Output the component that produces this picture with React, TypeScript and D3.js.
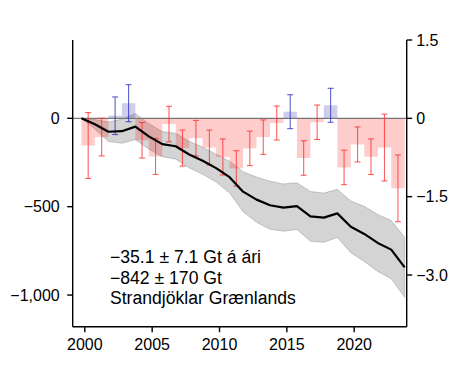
import React from "react";
import * as d3 from "d3";

// Annual balance bars (right axis units), hydrological years
const barYears = [2000, 2001, 2002, 2003, 2004, 2005, 2006, 2007, 2008, 2009, 2010, 2011, 2012, 2013, 2014, 2015, 2016, 2017, 2018, 2019, 2020, 2021, 2022, 2023];
const barValues = [-0.52, -0.36, 0.05, 0.29, -0.42, -0.73, -0.11, -0.57, -0.38, -0.56, -0.74, -0.96, -0.575, -0.36, -0.09, 0.127, -0.76, -0.075, 0.25, -0.94, -0.5, -0.735, -0.56, -1.34];
const barErrors = [0.63, 0.36, 0.36, 0.355, 0.34, 0.345, 0.34, 0.345, 0.34, 0.335, 0.345, 0.34, 0.33, 0.33, 0.325, 0.325, 0.33, 0.33, 0.325, 0.33, 0.335, 0.34, 0.64, 0.64];

// Cumulative mass change (Gt, left axis)
const cumTimes = [1999.75, 2000.75, 2001.75, 2002.75, 2003.75, 2004.75, 2005.75, 2006.75, 2007.75, 2008.75, 2009.75, 2010.75, 2011.75, 2012.75, 2013.75, 2014.75, 2015.75, 2016.75, 2017.75, 2018.75, 2019.75, 2020.75, 2021.75, 2022.75, 2023.75];
const cumValues = [0, -34, -76, -73, -47, -102, -146, -158, -205, -240, -282, -333, -415, -460, -492, -505, -497, -555, -562, -538, -614, -654, -705, -743, -843];
const cumUncert = [0, 27, 55, 68, 74, 72, 71, 73, 75, 77, 79, 90, 113, 128, 136, 134, 132, 141, 139, 136, 146, 156, 161, 165, 170];

const xTicks = [2000, 2005, 2010, 2015, 2020];
const leftTicks = [0, -500, -1000];
const rightTicks = [1.5, 0, -1.5, -3.0];
const annotation = ["−35.1 ± 7.1 Gt á ári", "−842 ± 170 Gt", "Strandjöklar Grænlands"];

export default function App() {
  const W = 455, H = 383;
  const L = 72.7, R = 406.7, T = 40, B = 326.7;
  const x = d3.scaleLinear().domain([1999.1, 2023.9]).range([L, R]);
  const yL = d3.scaleLinear().domain([-1179, 443]).range([B, T]);
  const yR = d3.scaleLinear().domain([-3.99, 1.5]).range([B, T]);

  const pts = cumTimes.map((t, i) => ({ t, v: cumValues[i], u: cumUncert[i] }));
  const area = d3.area<any>().x((d) => x(d.t)).y0((d) => yL(d.v - d.u)).y1((d) => yL(d.v + d.u));
  const line = d3.line<any>().x((d) => x(d.t)).y((d) => yL(d.v));

  const minus = (s: string) => s.replace(/-/g, "−");
  const fmtL = (v: number) => minus(d3.format(",")(v));
  const fmtR = (v: number) => (v === 0 ? "0" : minus(d3.format(".1f")(v)));

  const font = "'Liberation Sans', Arial, Helvetica, sans-serif";
  const tickFs = 16;

  return (
    <svg width={W} height={H} style={{ position: "absolute", left: 0, top: 0 }} fontFamily={font}>
      <rect width={W} height={H} fill="#fff" />
      <path d={area(pts) || ""} fill="rgba(0,0,0,0.17)" stroke="rgba(0,0,0,0.22)" strokeWidth={0.8} />
      {barYears.map((yr, i) => {
        const v = barValues[i];
        const y0 = yR(0), y1 = yR(v);
        return (
          <rect key={"b" + yr} x={x(yr - 0.25)} width={x(yr + 0.75) - x(yr - 0.25)}
            y={Math.min(y0, y1)} height={Math.abs(y1 - y0)}
            fill={v >= 0 ? "rgba(30,30,170,0.22)" : "rgba(255,0,0,0.2)"} />
        );
      })}
      <line x1={L} x2={R} y1={yR(0)} y2={yR(0)} stroke="#777" strokeWidth={1.2} />
      {barYears.map((yr, i) => {
        const v = barValues[i], e = barErrors[i];
        const cx = x(yr + 0.25);
        const col = v >= 0 ? "rgba(40,40,190,0.75)" : "rgba(255,40,40,0.75)";
        return (
          <g key={"e" + yr} stroke={col} strokeWidth={1.1}>
            <line x1={cx} x2={cx} y1={yR(v + e)} y2={yR(v - e)} />
            <line x1={cx - 3} x2={cx + 3} y1={yR(v + e)} y2={yR(v + e)} />
            <line x1={cx - 3} x2={cx + 3} y1={yR(v - e)} y2={yR(v - e)} />
          </g>
        );
      })}
      <path d={line(pts) || ""} fill="none" stroke="#000" strokeWidth={2.2} strokeLinejoin="round" />

      {/* axes */}
      <g stroke="#000" strokeWidth={1.4} fill="none">
        <line x1={L} x2={L} y1={T} y2={B} />
        <line x1={R} x2={R} y1={T} y2={B} />
        <line x1={L} x2={R} y1={B} y2={B} />
      </g>
      {leftTicks.map((v) => (
        <g key={"l" + v}>
          <line x1={L - 5.5} x2={L} y1={yL(v)} y2={yL(v)} stroke="#000" strokeWidth={1.4} />
          <text x={L - 13} y={yL(v)} dy="0.36em" textAnchor="end" fontSize={tickFs}>{fmtL(v)}</text>
        </g>
      ))}
      {rightTicks.map((v) => (
        <g key={"r" + v}>
          <line x1={R} x2={R + 5.5} y1={yR(v)} y2={yR(v)} stroke="#000" strokeWidth={1.4} />
          <text x={R + 9.5} y={yR(v)} dy="0.36em" textAnchor="start" fontSize={tickFs}>{fmtR(v)}</text>
        </g>
      ))}
      {xTicks.map((v) => (
        <g key={"x" + v}>
          <line x1={x(v)} x2={x(v)} y1={B} y2={B + 5.5} stroke="#000" strokeWidth={1.4} />
          <text x={x(v)} y={B + 23} textAnchor="middle" fontSize={tickFs}>{v}</text>
        </g>
      ))}
      {annotation.map((s, i) => (
        <text key={"a" + i} x={110} y={263.3 + i * 20.5} fontSize={17.6}>{s}</text>
      ))}
    </svg>
  );
}
